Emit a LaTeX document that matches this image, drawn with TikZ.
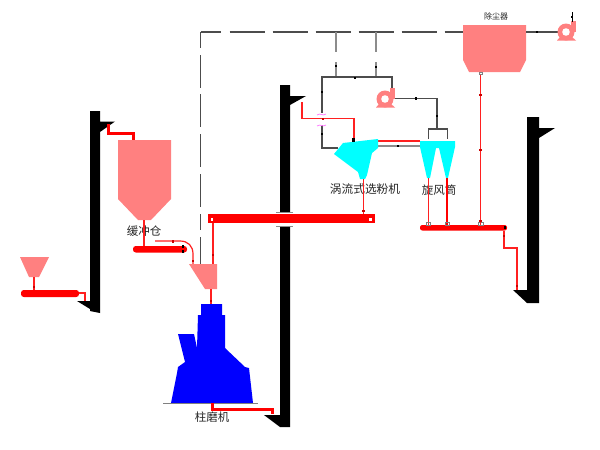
\documentclass[tikz,border=0pt]{standalone}
\usepackage{fontspec}
\setmainfont{Noto Sans CJK SC}
\newfontfamily\cjk{Noto Sans CJK SC}
\definecolor{pinkfill}{HTML}{FF8080}
\definecolor{pipered}{HTML}{FF0000}
\definecolor{thinred}{HTML}{FF2020}
\definecolor{cyanfill}{HTML}{00FFFF}
\definecolor{millblue}{HTML}{0000FF}
\definecolor{lavender}{HTML}{FF80FF}
\tikzset{
  blackpart/.style={fill=black,draw=none},
  pinkpart/.style={fill=pinkfill,draw=none},
  cyanpart/.style={fill=cyanfill,draw=none},
  redbar/.style={fill=pipered,draw=none,rounded corners=2.8pt},
  thinpipe/.style={draw=thinred,line width=1.2pt},
  thickpipe/.style={draw=pipered,line width=3pt},
  airline/.style={draw=black!70,line width=1.1pt},
  grayline/.style={draw=black!45,line width=1.4pt},
  dashair/.style={draw=black!70,line width=1.1pt},
  tick/.style={fill=black,draw=none},
  redtick/.style={fill=pipered!80!black,draw=none},
  lab/.style={font=\cjk,inner sep=0pt,text=black!85},
  fan/.pic={
    \fill[pinkfill] (0,0) circle (8.5);
    \fill[pinkfill] (5,-11) rectangle (10,0);
    \fill[pinkfill] (-6,5) -- (6,5) -- (10,8.5) -- (-9,8.5) -- cycle;
    \fill[white] (0,0) circle (3.8);
  }
}
\newcommand{\mk}[2]{\fill[tick] (#1-1.2,#2-1.2) rectangle (#1+1.2,#2+1.2);}
\newcommand{\rmk}[2]{\fill[redtick] (#1-1.2,#2-1.2) rectangle (#1+1.2,#2+1.2);}
\begin{document}
\begin{tikzpicture}[x=1pt,y=-1pt]
\useasboundingbox (0,0) rectangle (600,450);
\fill[white] (0,0) rectangle (600,450);

% dashed air line
\draw[dashair,dash pattern=on 20pt off 9pt on 35pt off 8pt on 35pt off 8pt on 35pt off 8pt on 35pt off 8pt on 35pt off 8pt on 35pt off 7pt on 20pt off 0pt] (200.5,32) -- (463,32);
\draw[dashair,dash pattern=on 16pt off 7pt on 33pt off 6pt on 33pt off 7pt on 33pt off 7pt on 33pt off 7pt] (200.5,32) -- (200.5,264);
\draw[grayline] (336,32) -- (336,52);
\draw[grayline] (336,62) -- (336,77);
\draw[grayline] (376,32) -- (376,52);
\draw[grayline] (376,62) -- (376,77);
\mk{336}{66}\mk{376}{67}

% air loop
\draw[airline] (392,88) -- (392,77) -- (322,77) -- (322,113);
\draw[airline] (322,125) -- (322,148) -- (338,148);
\mk{322}{92}\mk{322}{134}\mk{355}{78}
\draw[airline] (395,98.5) -- (437,98.5) -- (437,129);
\mk{416}{98.5}\mk{437}{116}
\draw[airline] (428.5,139) -- (428.5,129) -- (447.5,129) -- (447.5,139);
\draw[grayline] (378,146) -- (420,146);
\mk{398}{146}
\draw[thinpipe] (378,141) -- (420,141);

% red air branch
\draw[thinpipe] (302,102) -- (302,118.7) -- (354,118.7) -- (354,139);
\draw[lavender,line width=0.8pt] (317,115) .. controls (320,112.5) and (323,116.5) .. (326,114);
\draw[lavender,line width=0.8pt] (317,126) .. controls (320,123.5) and (323,127.5) .. (326,125);
\rmk{323}{118.7}

% elevator 1
\fill[blackpart] (90,111) -- (100,111) -- (100,121.5) -- (115,121.5) -- (100,132) -- (100,313) -- (90,311) -- (90,309) -- (77,301) -- (90,301) -- cycle;
% elevator 2
\fill[blackpart] (280,85) -- (290,85) -- (290,96) -- (306,96) -- (290,105) -- (290,427) -- (280,427) -- (264,415) -- (280,415) -- cycle;
\fill[white] (275,212) rectangle (294,226);
\draw[black!45,line width=0.8pt] (276,212) -- (293,212);
\draw[black!45,line width=0.8pt] (276,226) -- (293,226);
% elevator 3
\fill[blackpart] (527,117) -- (539,117) -- (539,128) -- (555,128) -- (539,138) -- (539,303) -- (527,303) -- (513,290) -- (527,290) -- cycle;

% feed hopper and conveyor
\fill[pinkpart] (20,257) -- (49,257) -- (39,277) -- (29,277) -- cycle;
\draw[thinpipe] (34,277) -- (34,290);
\fill[redbar] (21,290) rectangle (79,297);
\draw[thinpipe] (79,293) -- (85,293) -- (85,301);
\rmk{34}{287}

% buffer silo
\draw[thickpipe] (108,124) -- (108,133) -- (133,133) -- (133,140);
\fill[pinkpart] (118,140) -- (171,140) -- (171,199) -- (151,220) -- (138,220) -- (118,199) -- cycle;
\node[lab,font=\cjk\fontsize{11.5}{11.5}\selectfont] (silolabel) at (144,231) {缓冲仓};
\draw[thinpipe] (144,220) -- (144,246);
\fill[redbar] (133,246) rectangle (187,252.5);
\mk{183}{246.5}\mk{183}{251.5}
\draw[thinpipe] (155,241) -- (180,241) .. controls (188,241) and (193,246) .. (193,254) -- (193,264);
\rmk{173}{241.5}\rmk{193}{261}

% mill hopper
\draw[thinpipe] (213,223) -- (213,264);
\rmk{213}{255}
\fill[pinkpart] (189,264) -- (217,264) -- (217,289) -- (205,289) -- cycle;
\draw[thinpipe] (211,289) -- (211,304);
\rmk{211}{301}

% mill
\fill[millblue] (201,304) -- (222,304) -- (222,315) -- (225,315) -- (225,348) -- (245,367) -- (249,368) -- (253,403) -- (171,403) -- (177,373) -- (178,367) -- (185,362) -- (178,334) -- (194,334) -- (197,348) -- (198,315) -- (201,315) -- cycle;
\draw[black!50,line width=0.8pt] (163,403.5) -- (258,403.5);
\node[lab,font=\cjk\fontsize{11.5}{11.5}\selectfont] (milllabel) at (212,417) {柱磨机};
\draw[thickpipe] (212,403) -- (212,409) -- (272,409) -- (272,414);

% horizontal conveyor
\fill[pipered] (208,214) rectangle (375,223);
\fill[white] (211,218) rectangle (213,220.5);
\fill[white] (369,218) rectangle (372,220.5);

% classifier
\fill[cyanpart] (334,154) -- (343,143) -- (378,139) -- (378,148) -- (372,153) -- (367,175) -- (365,179) -- (360,179) -- (358,172) -- cycle;
\fill[tick] (351.5,138) rectangle (355,142);
\node[lab,font=\cjk\fontsize{11.7}{11.7}\selectfont] (classlabel) at (365,189) {涡流式选粉机};
\draw[thinpipe] (363.5,179) -- (363.5,214);
\rmk{363.5}{211}

% cyclones
\fill[cyanpart] (420,141) -- (455,141) -- (455,147) -- (448,178) -- (446,178) -- (439,148) -- (436,148) -- (430,178) -- (427,178) -- (420,147) -- cycle;
\node[lab,font=\cjk\fontsize{11.5}{11.5}\selectfont] (cyclabel) at (439,190) {旋风筒};
\draw[thinpipe] (428.5,178) -- (428.5,225);
\draw[draw=pipered,line width=1.8pt] (447,178) -- (447,225);
\fill[redbar,rounded corners=2.3pt] (420,225) rectangle (507,230.5);
\draw[black!50,line width=0.5pt] (426.5,225) rectangle (430.5,222.5);
\draw[black!50,line width=0.5pt] (445.5,225) rectangle (449.5,222.5);
\draw[black!50,line width=0.5pt] (478,225) rectangle (483,222.5);
\mk{505}{227.5}

% dust collector
\node[lab,font=\cjk\fontsize{8}{8}\selectfont] (dustlabel) at (496,16) {除尘器};
\fill[pinkpart] (463,25) -- (526,25) -- (526,60) -- (520,72) -- (469,72) -- (463,60) -- cycle;
\draw[black!50,line width=0.5pt] (479.5,72) rectangle (482.5,74.5);
\draw[thinpipe] (480.5,75) -- (480.5,225);
\rmk{480.5}{95}\rmk{480.5}{150}\rmk{480.5}{221}

% discharge to elevator 3
\draw[thinpipe] (504,231) -- (504,248) -- (517,248) -- (517,290);
\rmk{504}{236}\rmk{517}{286}

% fans
\pic at (385,99) {fan};
\draw[airline] (526,32) -- (560,32);
\mk{537}{32}
\pic at (566,32) {fan};
\draw[draw=black,line width=1pt] (572,12) -- (572,22);
\mk{572}{17}
\end{tikzpicture}
\end{document}
